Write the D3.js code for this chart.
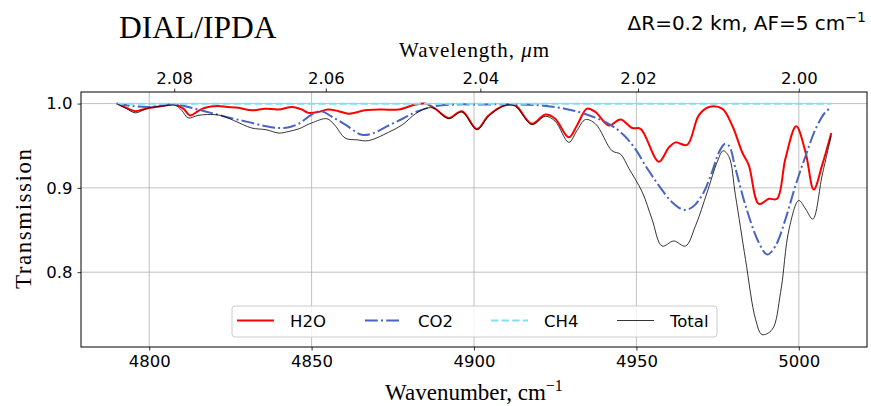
<!DOCTYPE html>
<html>
<head>
<meta charset="utf-8">
<script src="https://cdn.jsdelivr.net/npm/d3@7"></script>
<style>
  html, body { margin: 0; padding: 0; background: #fff; }
  svg { display: block; }
</style>
</head>
<body>
<svg id="chart" width="871" height="406"></svg>
<script>
// ---------------- DATA ----------------
const h2oWavenumber = [4790, 4793, 4795.7, 4798, 4800, 4804, 4808, 4810.5, 4812.6, 4815, 4817.2, 4821, 4824, 4827.5, 4831.6, 4835.7, 4839.8, 4844, 4847, 4849, 4852, 4855, 4858.3, 4861.4, 4866.5, 4871.6, 4876.8, 4882, 4885, 4888, 4892.2, 4896.3, 4900.9, 4904.5, 4909.6, 4912.7, 4917.8, 4922, 4925, 4929.2, 4931.7, 4934.8, 4937.4, 4941.5, 4945.1, 4948.7, 4951.3, 4956.9, 4960, 4962, 4965.6, 4969.2, 4972.3, 4976.4, 4979.5, 4982.6, 4984.6, 4987.7, 4990.8, 4993.3, 4995.9, 4999.2, 5002.1, 5004.6, 5007.2, 5010];
const h2oTransmission = [1.000, 0.995, 0.991, 0.993, 0.995, 0.997, 0.999, 0.994, 0.986, 0.991, 0.995, 0.997, 0.996, 0.995, 0.992, 0.994, 0.993, 0.996, 0.993, 0.989, 0.990, 0.993, 0.991, 0.988, 0.992, 0.993, 0.993, 0.999, 1.000, 0.994, 0.983, 0.991, 0.970, 0.986, 0.998, 0.998, 0.976, 0.987, 0.982, 0.960, 0.974, 0.994, 0.990, 0.974, 0.981, 0.971, 0.970, 0.931, 0.948, 0.954, 0.951, 0.986, 0.996, 0.994, 0.974, 0.942, 0.927, 0.881, 0.887, 0.887, 0.935, 0.973, 0.942, 0.898, 0.927, 0.965];

const co2Wavenumber = [4790, 4795, 4800, 4804, 4808, 4812, 4816, 4820, 4825, 4830.6, 4836, 4840, 4843, 4846, 4850, 4853, 4856, 4860, 4865.5, 4869, 4873.7, 4878, 4882, 4888, 4895, 4900, 4910, 4920, 4928, 4934, 4941.5, 4946, 4949.7, 4953, 4956.9, 4961, 4964.6, 4967.2, 4970.2, 4973.3, 4975.4, 4977.2, 4978.5, 4980.5, 4983.6, 4987.7, 4990.3, 4992.8, 4995.9, 4999, 5002.1, 5005.2, 5008.2, 5010];
const co2Transmission = [1.000, 0.997, 0.996, 0.998, 0.999, 0.996, 0.992, 0.988, 0.983, 0.978, 0.973, 0.971, 0.972, 0.976, 0.987, 0.991, 0.985, 0.976, 0.963, 0.965, 0.974, 0.982, 0.990, 0.997, 0.999, 0.999, 0.999, 0.998, 0.994, 0.988, 0.976, 0.963, 0.946, 0.925, 0.903, 0.883, 0.874, 0.877, 0.891, 0.919, 0.942, 0.952, 0.950, 0.923, 0.879, 0.835, 0.821, 0.831, 0.863, 0.903, 0.938, 0.970, 0.990, 0.995];

const ch4Wavenumber = [4790, 4850, 4900, 4950, 5010];
const ch4Transmission = [0.9999, 0.9999, 0.9999, 0.9999, 0.9999];

const totalWavenumber = [4790, 4793, 4795.7, 4798, 4800, 4804, 4808, 4810, 4812, 4815, 4818, 4822, 4826, 4831.6, 4836, 4840, 4843, 4846, 4850, 4854.7, 4857, 4860.4, 4864, 4867.5, 4873.7, 4878, 4882, 4886, 4888, 4892.2, 4896.3, 4900.9, 4904.5, 4909.6, 4912.7, 4917.8, 4922, 4925, 4929.2, 4931.7, 4934.3, 4937.4, 4942.5, 4945.1, 4947.7, 4951.8, 4954.8, 4957.9, 4961.5, 4965.1, 4968.2, 4971.8, 4974.9, 4976.7, 4978.5, 4980.5, 4983.6, 4986.7, 4988.7, 4991.8, 4994.4, 4997, 5000, 5002.1, 5004.3, 5007.2, 5010];
const totalTransmission = [1.000, 0.994, 0.989, 0.992, 0.995, 0.997, 0.998, 0.992, 0.983, 0.986, 0.987, 0.986, 0.980, 0.971, 0.969, 0.965, 0.967, 0.970, 0.977, 0.982, 0.975, 0.959, 0.957, 0.956, 0.966, 0.975, 0.988, 0.995, 0.994, 0.982, 0.990, 0.969, 0.985, 0.998, 0.997, 0.975, 0.985, 0.979, 0.954, 0.968, 0.981, 0.976, 0.944, 0.940, 0.923, 0.895, 0.863, 0.831, 0.837, 0.831, 0.855, 0.895, 0.931, 0.944, 0.937, 0.891, 0.815, 0.744, 0.726, 0.732, 0.776, 0.851, 0.885, 0.875, 0.863, 0.915, 0.962];

const seriesNames = ["H2O", "CO2", "CH4", "Total"];
const bottomTicks = [4800, 4850, 4900, 4950, 5000];
const topTicks = [2.08, 2.06, 2.04, 2.02, 2.00];   // wavelength, µm
const yTicks = [0.8, 0.9, 1.0];

// ---------------- LAYOUT ----------------
const svg = d3.select("#chart");
const L = 81, R = 867, T = 92, B = 347;
const sansFont = "'DejaVu Sans', sans-serif";
const serifFont = "'Liberation Serif', 'Times New Roman', serif";

const x = d3.scaleLinear().domain([4779, 5021]).range([L, R]);
const y = d3.scaleLinear().domain([0.71125, 1.01375]).range([B, T]);

const styles = {
  H2O:   { color: "#ff0000", width: 2, dash: null },
  CO2:   { color: "#4a64c2", width: 2, dash: "12.8,3.2,2,3.2" },
  CH4:   { color: "#80dff5", width: 2, dash: "7.4,3.2" },
  Total: { color: "#000000", width: 0.8, dash: null }
};

// grid
const grid = svg.append("g");
grid.selectAll("line.gx").data(bottomTicks).join("line")
  .attr("x1", d => x(d)).attr("x2", d => x(d)).attr("y1", T).attr("y2", B)
  .attr("stroke", "#b0b0b0").attr("stroke-width", 0.8);
grid.selectAll("line.gy").data(yTicks).join("line")
  .attr("x1", L).attr("x2", R).attr("y1", d => y(d)).attr("y2", d => y(d))
  .attr("stroke", "#b0b0b0").attr("stroke-width", 0.8);

// lines
const data = {
  H2O: d3.zip(h2oWavenumber, h2oTransmission),
  CO2: d3.zip(co2Wavenumber, co2Transmission),
  CH4: d3.zip(ch4Wavenumber, ch4Transmission),
  Total: d3.zip(totalWavenumber, totalTransmission)
};
const line = d3.line().x(d => x(d[0])).y(d => y(d[1])).curve(d3.curveCatmullRom.alpha(0.5));
seriesNames.forEach(name => {
  const s = styles[name];
  svg.append("path").datum(data[name])
    .attr("d", line)
    .attr("fill", "none")
    .attr("stroke", s.color)
    .attr("stroke-width", s.width)
    .attr("stroke-dasharray", s.dash)
    .attr("stroke-linejoin", "round");
});

// axes
function styleAxis(g) {
  g.selectAll(".domain").remove();
  g.selectAll(".tick line").attr("stroke", "#000").attr("stroke-width", 0.8);
  g.selectAll(".tick text").attr("font-family", sansFont).attr("font-size", "16.5px").attr("fill", "#000");
}
svg.append("g").attr("transform", `translate(0,${B})`)
  .call(d3.axisBottom(x).tickValues(bottomTicks).tickSize(3.5).tickPadding(5).tickFormat(d3.format("d")))
  .call(styleAxis);
svg.append("g").attr("transform", `translate(0,${T})`)
  .call(d3.axisTop(x).tickValues(topTicks.map(l => 1e4 / l)).tickSize(3.5).tickPadding(5)
    .tickFormat((d, i) => topTicks[i].toFixed(2)))
  .call(styleAxis);
svg.append("g").attr("transform", `translate(${L},0)`)
  .call(d3.axisLeft(y).tickValues(yTicks).tickSize(3.5).tickPadding(5).tickFormat(d3.format(".1f")))
  .call(styleAxis);

// frame
svg.append("rect").attr("x", L).attr("y", T).attr("width", R - L).attr("height", B - T)
  .attr("fill", "none").attr("stroke", "#000").attr("stroke-width", 1);

// legend
const lg = svg.append("g");
lg.append("rect").attr("x", 232).attr("y", 306).attr("width", 485).attr("height", 31)
  .attr("rx", 3).attr("fill", "#fff").attr("fill-opacity", 0.8)
  .attr("stroke", "#cccccc").attr("stroke-width", 1);
const legX = [237, 365, 491, 617];
seriesNames.forEach((name, i) => {
  const s = styles[name];
  lg.append("line").attr("x1", legX[i]).attr("x2", legX[i] + 37).attr("y1", 320.5).attr("y2", 320.5)
    .attr("stroke", s.color).attr("stroke-width", s.width).attr("stroke-dasharray", s.dash);
  lg.append("text").attr("x", legX[i] + 53).attr("y", 326.5)
    .attr("font-family", sansFont).attr("font-size", "16.5px").attr("fill", "#000").text(name);
});

// titles
svg.append("text").attr("x", 119).attr("y", 37.5)
  .attr("font-family", serifFont).attr("font-size", "31.5px").attr("fill", "#000").text("DIAL/IPDA");

const ann = svg.append("text").attr("x", 866).attr("y", 29.5).attr("text-anchor", "end")
  .attr("font-family", sansFont).attr("font-size", "20px").attr("fill", "#000");
ann.append("tspan").text("ΔR=0.2 km, AF=5 cm");
ann.append("tspan").attr("dy", -8).attr("font-size", "14px").text("−1");

svg.append("text").attr("x", 474).attr("y", 56.5).attr("text-anchor", "middle")
  .attr("font-family", serifFont).attr("font-size", "21px").attr("fill", "#000")
  .attr("textLength", 150).attr("lengthAdjust", "spacing")
  .html("Wavelength, <tspan font-style='italic'>μ</tspan>m");

const xl = svg.append("text").attr("x", 474).attr("y", 400).attr("text-anchor", "middle")
  .attr("font-family", serifFont).attr("font-size", "23px").attr("fill", "#000");
xl.append("tspan").text("Wavenumber, cm");
xl.append("tspan").attr("dy", -9).attr("font-size", "16px").text("−1");

svg.append("text").attr("transform", "translate(31,219) rotate(-90)").attr("text-anchor", "middle")
  .attr("font-family", serifFont).attr("font-size", "23px").attr("fill", "#000")
  .attr("textLength", 140).attr("lengthAdjust", "spacing").text("Transmission");
</script>
</body>
</html>
